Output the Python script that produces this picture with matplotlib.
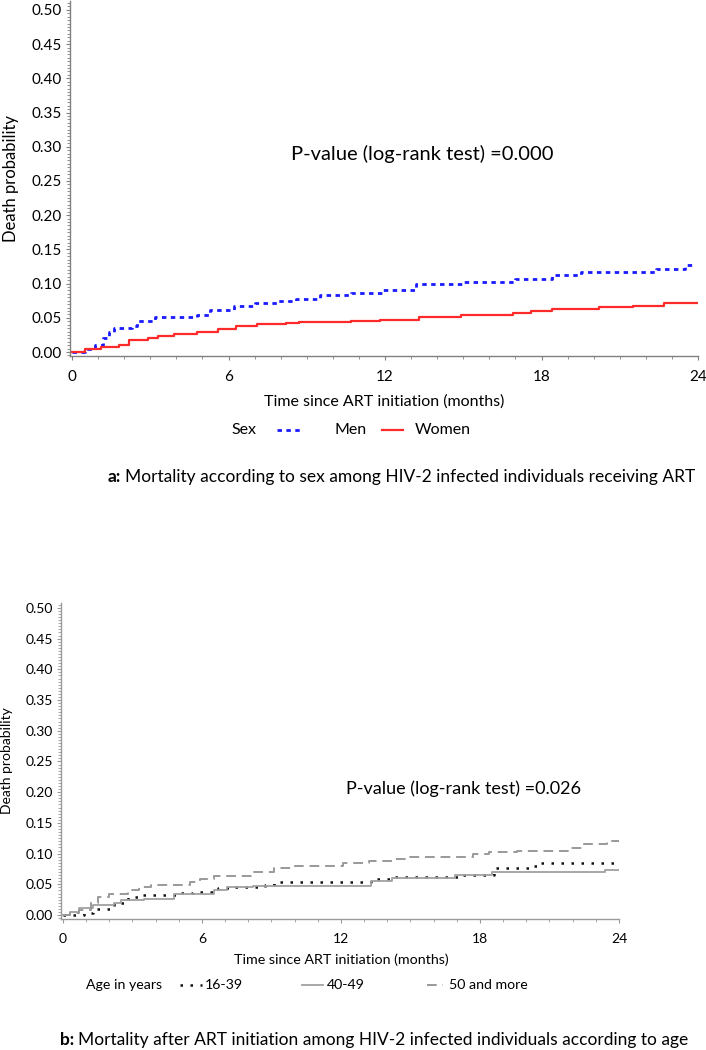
"""Kaplan-Meier style mortality curves for HIV-2 patients on ART (sex / age)."""

import matplotlib

matplotlib.use("Agg")
import matplotlib.pyplot as plt
import numpy as np
from matplotlib.lines import Line2D
from matplotlib.ticker import MultipleLocator

plt.rcParams["font.family"] = ["Lato", "DejaVu Sans"]

# --- panel a: sex -------------------------------------------------------
men_t = [0, 0.5, 0.9, 1.2, 1.4, 1.6, 2.3, 2.5, 3.2, 4.8, 5.3, 6.2, 7.0, 7.9,
         8.6, 9.5, 10.7, 11.9, 13.2, 15.0, 17.0, 18.4, 19.5, 22.4, 23.5, 23.8]
men_p = [0, 0.004, 0.010, 0.020, 0.030, 0.035, 0.038, 0.046, 0.051, 0.054,
         0.062, 0.068, 0.071, 0.075, 0.078, 0.084, 0.086, 0.090, 0.099, 0.103,
         0.106, 0.113, 0.117, 0.122, 0.127, 0.127]
women_t = [0, 0.5, 1.1, 1.8, 2.2, 2.9, 3.3, 3.9, 4.8, 5.6, 6.3, 7.1, 8.2, 8.7,
           10.7, 11.8, 13.3, 14.9, 16.9, 17.6, 18.4, 20.2, 21.5, 22.7, 24.0]
women_p = [0, 0.004, 0.007, 0.010, 0.017, 0.020, 0.023, 0.026, 0.030, 0.034,
           0.038, 0.041, 0.043, 0.044, 0.045, 0.047, 0.051, 0.054, 0.057, 0.060,
           0.063, 0.066, 0.068, 0.071, 0.071]

# --- panel b: age -------------------------------------------------------
age1_t = [0, 0.9, 1.3, 2.2, 2.8, 3.3, 4.9, 5.6, 6.7, 7.4, 8.7, 9.1, 13.3, 14.1,
          17.2, 18.6, 20.2, 20.6, 24.0]
age1_p = [0, 0.003, 0.010, 0.019, 0.030, 0.033, 0.036, 0.038, 0.044, 0.046,
          0.049, 0.053, 0.058, 0.062, 0.065, 0.076, 0.080, 0.085, 0.085]
age2_t = [0, 0.3, 0.7, 1.3, 2.2, 2.5, 3.5, 4.8, 6.5, 7.1, 8.2, 13.3, 14.2,
          16.9, 18.5, 23.4, 24.0]
age2_p = [0, 0.005, 0.012, 0.016, 0.019, 0.024, 0.026, 0.034, 0.041, 0.045,
          0.047, 0.055, 0.060, 0.065, 0.070, 0.073, 0.073]
age3_t = [0, 0.3, 0.7, 1.2, 1.5, 2.0, 2.8, 3.3, 3.8, 5.5, 5.9, 6.5, 8.2, 9.1,
          10.0, 12.1, 13.2, 14.3, 15.0, 17.7, 18.4, 19.6, 21.8, 22.5, 23.5, 24.0]
age3_p = [0, 0.004, 0.008, 0.019, 0.030, 0.034, 0.041, 0.045, 0.049, 0.054,
          0.058, 0.064, 0.070, 0.077, 0.080, 0.085, 0.088, 0.091, 0.094, 0.099,
          0.102, 0.105, 0.109, 0.116, 0.121, 0.121]

x_ticks = [0, 6, 12, 18, 24]
y_ticks = np.arange(0, 0.51, 0.05)

W, H = 706, 1050
fig = plt.figure(figsize=(W / 100, H / 100), dpi=100)
renderer = fig.canvas.get_renderer()


def px_axes(left, top, right, bottom):
    return fig.add_axes([left / W, 1 - bottom / H, (right - left) / W, (bottom - top) / H])


def fx(x):
    return x / W


def fy(y):
    return 1 - y / H


def caption(x, y, tag, rest, size):
    # bold panel tag followed by regular text, starting at pixel x
    t = fig.text(fx(x), fy(y), tag, fontsize=size, fontweight="bold", va="center")
    ext = t.get_window_extent(renderer)
    fig.text(fx(x + ext.width + 4), fy(y), rest, fontsize=size, va="center")


def style_axis(ax, xmin, ymin, ymax, size, spine_color):
    ax.set_xlim(xmin, 24)
    ax.set_ylim(ymin, ymax)
    ax.set_xticks(x_ticks)
    ax.set_yticks(y_ticks)
    ax.set_yticklabels([f"{v:.2f}" for v in y_ticks])
    ax.xaxis.set_minor_locator(MultipleLocator(1))
    ax.yaxis.set_minor_locator(MultipleLocator(0.005))
    for side in ("top", "right"):
        ax.spines[side].set_visible(False)
    for side in ("left", "bottom"):
        ax.spines[side].set_color(spine_color)
        ax.spines[side].set_linewidth(1.0)
    ax.tick_params(which="major", length=3, width=0.8, color=spine_color,
                   labelsize=size, pad=3)
    ax.tick_params(which="minor", length=2, width=0.6, color=spine_color)
    ax.tick_params(axis="x", which="major", pad=7)


# panel a
ax1 = px_axes(70, 1, 698, 356)
ax1.step(men_t, men_p, where="post", color="#1a1aff", lw=2.0,
         linestyle=(0, (1.6, 1.6)))
ax1.step(women_t, women_p, where="post", color="#ff2a2a", lw=1.6)
style_axis(ax1, -0.077, -0.0058, 0.513, 11, "#808080")
ax1.set_ylabel("Death probability", fontsize=12, labelpad=9)
ax1.text(8.4, 0.29, "P-value (log-rank test) =0.000", fontsize=14.5, va="center")
fig.text(fx(384), fy(402), "Time since ART initiation (months)", fontsize=11.5,
         ha="center", va="center")

fig.text(fx(231), fy(430), "Sex", fontsize=11.5, va="center")
fig.add_artist(Line2D([fx(277), fx(300)], [fy(430)] * 2, color="#1a1aff", lw=2.0,
                      linestyle=(0, (1.6, 1.6))))
fig.text(fx(335), fy(430), "Men", fontsize=11.5, va="center")
fig.add_artist(Line2D([fx(382), fx(403)], [fy(430)] * 2, color="#ff2a2a", lw=1.6))
fig.text(fx(415), fy(430), "Women", fontsize=11.5, va="center")

caption(108, 477, "a:",
        "Mortality according to sex among HIV-2 infected individuals receiving ART", 12.5)

# panel b
ax2 = px_axes(61, 603, 619, 919)
ax2.step(age1_t, age1_p, where="post", color="#111111", lw=1.8,
         linestyle=(0, (1, 3)))
ax2.step(age2_t, age2_p, where="post", color="#a0a0a0", lw=1.3)
ax2.step(age3_t, age3_p, where="post", color="#999999", lw=1.4,
         linestyle=(0, (5, 3)))
style_axis(ax2, -0.086, -0.0065, 0.508, 10, "#9a9a9a")
ax2.set_ylabel("Death probability", fontsize=10, labelpad=9)
ax2.text(12.2, 0.205, "P-value (log-rank test) =0.026", fontsize=13, va="center")
fig.text(fx(341), fy(960), "Time since ART initiation (months)", fontsize=10.3,
         ha="center", va="center")

fig.text(fx(86), fy(985), "Age in years", fontsize=10.2, va="center")
fig.add_artist(Line2D([fx(180), fx(202)], [fy(985)] * 2, color="#111111", lw=1.8,
                      linestyle=(0, (1, 3))))
fig.text(fx(205), fy(985), "16-39", fontsize=10.2, va="center")
fig.add_artist(Line2D([fx(302), fx(323)], [fy(985)] * 2, color="#a0a0a0", lw=1.3))
fig.text(fx(327), fy(985), "40-49", fontsize=10.2, va="center")
fig.add_artist(Line2D([fx(427), fx(443)], [fy(985)] * 2, color="#999999", lw=1.4,
                      linestyle=(0, (5, 3))))
fig.text(fx(449), fy(985), "50 and more", fontsize=10.2, va="center")

caption(60, 1040, "b:",
        "Mortality after ART initiation among HIV-2 infected individuals according to age", 12.5)

fig.savefig("out.png", dpi=100, facecolor="white")
plt.close(fig)
